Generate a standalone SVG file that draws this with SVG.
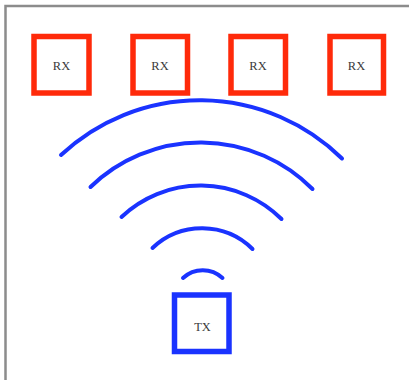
<svg xmlns="http://www.w3.org/2000/svg" width="409" height="380" viewBox="0 0 409 380">
  <style>
    .frame { stroke: #8c8c8c; stroke-width: 2.5; fill: none; }
    .rx rect { fill: #ffffff; stroke: #ff2a0a; stroke-width: 5.5; }
    .tx rect { fill: #ffffff; stroke: #1a33ff; stroke-width: 5.5; }
    .label { font-family: "Liberation Serif", "Times New Roman", serif; font-size: 12.5px; fill: #3a3a3a; text-anchor: middle; dominant-baseline: central; }
    .wave { fill: none; stroke: #1a33ff; stroke-width: 4; stroke-linecap: round; }
  </style>
  <rect width="409" height="380" fill="#ffffff"/>
  <!-- page frame: top and left edges -->
  <path class="frame" d="M 5.5 380 V 6 H 409"/>

  <g id="rx1" class="rx">
    <rect x="34" y="36.5" width="55" height="56.5"/>
    <text class="label" x="61.5" y="66">RX</text>
  </g>
  <g id="rx2" class="rx">
    <rect x="133" y="36.5" width="54.5" height="56.5"/>
    <text class="label" x="160" y="66">RX</text>
  </g>
  <g id="rx3" class="rx">
    <rect x="231" y="36.5" width="54.5" height="56.5"/>
    <text class="label" x="258" y="66">RX</text>
  </g>
  <g id="rx4" class="rx">
    <rect x="330" y="36.5" width="53.5" height="56.5"/>
    <text class="label" x="356.5" y="66">RX</text>
  </g>

  <g id="tx" class="tx">
    <rect x="174.5" y="295" width="54.5" height="56.5"/>
    <text class="label" x="202.5" y="327">TX</text>
  </g>

  <!-- radiating signal arcs -->
  <g id="waves">
    <path class="wave" d="M 61 155 A 203 203 0 0 1 342 158.5"/>
    <path class="wave" d="M 90.5 187 A 158 158 0 0 1 312.5 189"/>
    <path class="wave" d="M 121.5 217 A 115 115 0 0 1 281.5 219"/>
    <path class="wave" d="M 152.5 248 A 72 72 0 0 1 252.5 249"/>
    <path class="wave" d="M 183 278 A 29 29 0 0 1 222.5 278"/>
  </g>
</svg>
